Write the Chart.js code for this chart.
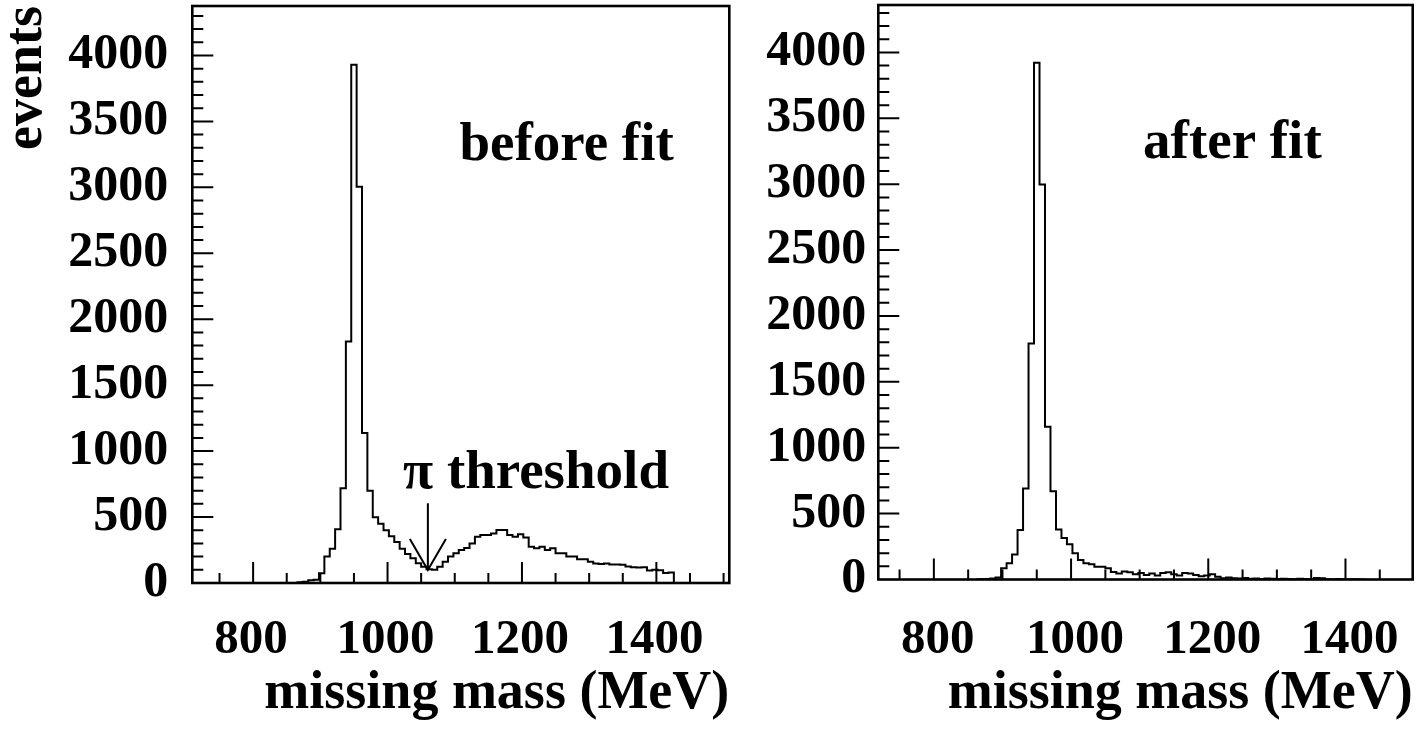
<!DOCTYPE html>
<html>
<head>
<meta charset="utf-8">
<title>missing mass before / after fit</title>
<script src="https://cdn.jsdelivr.net/npm/chart.js@4.4.1/dist/chart.umd.min.js"></script>
<style>
  html, body { margin: 0; padding: 0; background: #fff; }
  #wrap { position: relative; width: 1428px; height: 730px; overflow: hidden; }
  canvas { position: absolute; top: 0; }
  #beforeChart { left: 0; }
  #afterChart { left: 750px; }
</style>
</head>
<body>
<div id="wrap">
  <canvas id="beforeChart" width="750" height="730"></canvas>
  <canvas id="afterChart" width="678" height="730"></canvas>
</div>
<script>
// Bin centres in MeV (8 MeV bins)
const massBins = [
  862, 870, 878, 886, 894, 902, 910, 918,
  926, 934, 942, 950, 958, 966, 974, 982,
  990, 998, 1006, 1014, 1022, 1030, 1038, 1046,
  1054, 1062, 1070, 1078, 1086, 1094, 1102, 1110,
  1118, 1126, 1134, 1142, 1150, 1158, 1166, 1174,
  1182, 1190, 1198, 1206, 1214, 1222, 1230, 1238,
  1246, 1254, 1262, 1270, 1278, 1286, 1294, 1302,
  1310, 1318, 1326, 1334, 1342, 1350, 1358, 1366,
  1374, 1382, 1390, 1398, 1406, 1414, 1422, 1430
];

// Events per bin, before the kinematic fit
const eventsBefore = [
  0, 5, 10, 20, 25, 73, 200, 260,
  407, 718, 1832, 3930, 3004, 1137, 700, 498,
  450, 400, 355, 310, 260, 220, 187, 149,
  124, 104, 100, 124, 162, 200, 225, 250,
  265, 300, 351, 364, 364, 376, 402, 402,
  364, 351, 370, 345, 275, 263, 275, 250,
  263, 225, 225, 200, 200, 180, 180, 162,
  148, 145, 148, 140, 140, 138, 125, 120,
  118, 120, 95, 100, 97, 75, 80, 0
];

// Events per bin, after the kinematic fit
const eventsAfter = [
  0, 2, 3, 8, 15, 85, 123, 190,
  375, 691, 1792, 3921, 2997, 1160, 670, 380,
  315, 267, 200, 148, 123, 115, 97, 97,
  85, 57, 45, 60, 55, 40, 50, 35,
  45, 30, 50, 55, 40, 30, 50, 45,
  35, 25, 30, 40, 20, 10, 15, 10,
  8, 12, 5, 8, 3, 8, 5, 3,
  5, 3, 2, 5, 3, 0, 12, 10,
  2, 0, 3, 0, 0, 2, 0, 0
];

// Axis tick labels
const xTickValues = [800, 1000, 1200, 1400];
const yTickValues = [0, 500, 1000, 1500, 2000, 2500, 3000, 3500, 4000];

// Annotation text (data coordinates: MeV, events)
const panelLabels = ["before fit", "after fit"];
const panelLabelPos = [[1107, 3207], [1105, 3201]];
const thresholdText = "π threshold";
const thresholdTextPos = [1023, 720];
const thresholdMass = 1060;
const thresholdArrow = [604, 99];

const FONT = "'Liberation Serif', 'Times New Roman', serif";
Chart.defaults.font.family = FONT;
Chart.defaults.color = "#000";

// Frame plus inward tick marks, like the original plot
const frameTicks = {
  id: "frameTicks",
  afterDatasetsDraw(chart) {
    const { ctx, chartArea: a, scales: { x, y } } = chart;
    ctx.save();
    ctx.strokeStyle = "#000";
    ctx.lineWidth = 2;
    ctx.beginPath();
    for (let v = Math.ceil(x.min / 50) * 50; v < x.max; v += 50) {
      const px = x.getPixelForValue(v);
      const len = v % 200 === 0 ? 21 : 10;
      ctx.moveTo(px, a.bottom);
      ctx.lineTo(px, a.bottom - len);
    }
    for (let v = 100; v < y.max; v += 100) {
      const py = y.getPixelForValue(v);
      const len = v % 500 === 0 ? 21 : 11;
      ctx.moveTo(a.left, py);
      ctx.lineTo(a.left + len, py);
    }
    ctx.stroke();
    ctx.lineWidth = 2.6;
    ctx.strokeRect(a.left, a.top, a.right - a.left, a.bottom - a.top);
    ctx.restore();
  }
};

// Text labels and the threshold arrow
const notes = {
  id: "notes",
  afterDraw(chart, args, opts) {
    const { ctx, scales: { x, y } } = chart;
    ctx.save();
    ctx.fillStyle = "#000";
    ctx.font = "bold 55px " + FONT;
    ctx.textAlign = "left";
    ctx.textBaseline = "alphabetic";
    (opts.texts || []).forEach(t => {
      ctx.fillText(t.text, x.getPixelForValue(t.at[0]), y.getPixelForValue(t.at[1]));
    });
    if (opts.arrow) {
      const ax = x.getPixelForValue(opts.arrow.mass);
      const y0 = y.getPixelForValue(opts.arrow.from);
      const y1 = y.getPixelForValue(opts.arrow.to);
      ctx.strokeStyle = "#000";
      ctx.lineWidth = 2;
      ctx.beginPath();
      ctx.moveTo(ax, y0);
      ctx.lineTo(ax, y1);
      ctx.moveTo(ax - 18, y1 - 31);
      ctx.lineTo(ax, y1);
      ctx.lineTo(ax + 18, y1 - 31);
      ctx.stroke();
    }
    ctx.restore();
  }
};

function makePanel(id, values, cfg) {
  const canvas = document.getElementById(id);
  return new Chart(canvas.getContext("2d"), {
    type: "line",
    data: {
      datasets: [{
        data: massBins.map((m, i) => ({ x: m, y: values[i] })),
        stepped: "middle",
        borderColor: "#000",
        borderWidth: 2,
        pointRadius: 0,
        fill: false
      }]
    },
    options: {
      responsive: false,
      animation: false,
      devicePixelRatio: 1,
      layout: { padding: cfg.padding },
      plugins: {
        legend: { display: false },
        tooltip: { enabled: false },
        notes: cfg.notes
      },
      scales: {
        x: {
          type: "linear",
          min: cfg.xMin,
          max: cfg.xMax,
          afterBuildTicks: s => { s.ticks = xTickValues.map(v => ({ value: v })); },
          afterFit: s => { s.height = cfg.xAxisHeight; s.paddingLeft = 0; s.paddingRight = 0; },
          grid: { display: false, drawTicks: false },
          border: { display: false },
          ticks: {
            autoSkip: false,
            maxRotation: 0,
            padding: cfg.xTickPad,
            labelOffset: cfg.xLabelOffset,
            color: "#000",
            font: { size: 49, weight: "bold", lineHeight: 1 },
            callback: v => String(v)
          },
          title: {
            display: true,
            text: "missing mass (MeV)",
            align: "end",
            padding: 0,
            color: "#000",
            font: { size: 54, weight: "bold", lineHeight: 1 }
          }
        },
        y: {
          min: 0,
          max: cfg.yMax,
          afterBuildTicks: s => { s.ticks = yTickValues.map(v => ({ value: v })); },
          afterFit: s => { s.width = cfg.yAxisWidth; s.paddingTop = 0; s.paddingBottom = 0; },
          grid: { display: false, drawTicks: false },
          border: { display: false },
          ticks: {
            autoSkip: false,
            padding: cfg.yTickPad,
            color: "#000",
            font: { size: 50, weight: "bold", lineHeight: 1 },
            callback: v => String(v)
          },
          title: {
            display: cfg.yTitle,
            text: "events",
            align: "end",
            padding: 0,
            color: "#000",
            font: { size: 54, weight: "bold", lineHeight: 1 }
          }
        }
      }
    },
    plugins: [frameTicks, notes]
  });
}

makePanel("beforeChart", eventsBefore, {
  xMin: 709.5, xMax: 1508.5, yMax: 4375,
  padding: { left: 0, top: 6, right: 20.7, bottom: 9.1 },
  yAxisWidth: 192.3, xAxisHeight: 137.9,
  xTickPad: 32.5, xLabelOffset: -2, yTickPad: 24, yTitle: true,
  notes: {
    texts: [
      { text: panelLabels[0], at: panelLabelPos[0] },
      { text: thresholdText, at: thresholdTextPos }
    ],
    arrow: { mass: thresholdMass, from: thresholdArrow[0], to: thresholdArrow[1] }
  }
});

makePanel("afterChart", eventsAfter, {
  xMin: 719, xMax: 1498, yMax: 4360,
  padding: { left: 0, top: 5, right: 15.3, bottom: 9.1 },
  yAxisWidth: 128.3, xAxisHeight: 141.4,
  xTickPad: 36, xLabelOffset: 4, yTickPad: 12, yTitle: false,
  notes: {
    texts: [{ text: panelLabels[1], at: panelLabelPos[1] }]
  }
});
</script>
</body>
</html>
